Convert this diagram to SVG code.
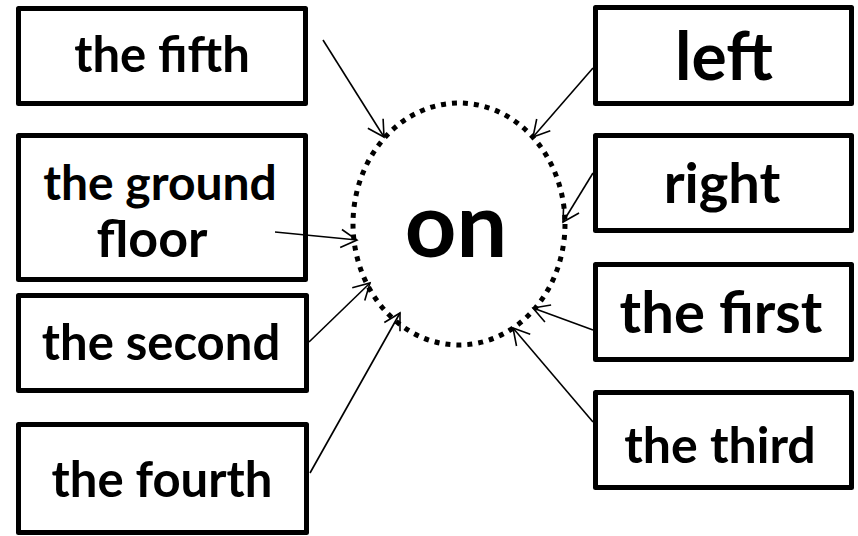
<svg xmlns="http://www.w3.org/2000/svg" width="858" height="536" viewBox="0 0 858 536">
<defs>
<style>
.box{fill:#fff;stroke:#000;stroke-width:5;stroke-linejoin:round}
.t{font-family:Lato,"Open Sans","Liberation Sans",sans-serif;font-weight:bold;text-anchor:middle;fill:#000}
.c{fill:none;stroke:#000;stroke-width:1.6}
</style>
<marker id="ah" markerUnits="userSpaceOnUse" markerWidth="30" markerHeight="30" refX="0" refY="0" viewBox="-20 -15 30 30" orient="auto" overflow="visible">
<path d="M-16,-9 L0,0 L-16,9" fill="none" stroke="#000" stroke-width="1.6"/>
</marker>
</defs>
<rect width="858" height="536" fill="#fff"/>
<g id="on">
<ellipse cx="459" cy="224" rx="106" ry="121" fill="none" stroke="#000" stroke-width="5" stroke-dasharray="5 6"/>
<text class="t" x="456" y="257" font-size="90">on</text>
</g>
<g id="n-fifth"><rect class="box" x="18.5" y="8.5" width="287" height="95"/><text class="t" x="162" y="72" font-size="49">the fifth</text></g>
<g id="n-ground"><rect class="box" x="18.5" y="135.5" width="287" height="144"/><text class="t" x="160" y="200" font-size="48">the ground</text><text class="t" x="152" y="257" font-size="52">floor</text></g>
<g id="n-second"><rect class="box" x="18.5" y="295.5" width="288" height="95"/><text class="t" x="161" y="360" font-size="49">the second</text></g>
<g id="n-fourth"><rect class="box" x="18.5" y="424.5" width="288" height="108"/><text class="t" x="162" y="497" font-size="49">the fourth</text></g>
<g id="n-left"><rect class="box" x="595.5" y="7.5" width="256" height="96"/><text class="t" x="724" y="80" font-size="66">left</text></g>
<g id="n-right"><rect class="box" x="595.5" y="135.5" width="256" height="95"/><text class="t" x="722" y="203" font-size="56">right</text></g>
<g id="n-first"><rect class="box" x="595.5" y="264.5" width="256" height="95"/><text class="t" x="721" y="333" font-size="58">the first</text></g>
<g id="n-third"><rect class="box" x="595.5" y="392.5" width="256" height="95"/><text class="t" x="720" y="463" font-size="50">the third</text></g>
<g id="connectors">
<line class="c" x1="323" y1="40" x2="384" y2="137" marker-end="url(#ah)"/>
<line class="c" x1="593" y1="68" x2="533" y2="137" marker-end="url(#ah)"/>
<line class="c" x1="593" y1="173" x2="563" y2="222" marker-end="url(#ah)"/>
<line class="c" x1="275" y1="232" x2="357" y2="240" marker-end="url(#ah)"/>
<line class="c" x1="309" y1="342" x2="370" y2="283" marker-end="url(#ah)"/>
<line class="c" x1="310" y1="473" x2="400" y2="313" marker-end="url(#ah)"/>
<line class="c" x1="593" y1="330" x2="533" y2="308" marker-end="url(#ah)"/>
<line class="c" x1="593" y1="422" x2="513" y2="328" marker-end="url(#ah)"/>
</g>
</svg>
